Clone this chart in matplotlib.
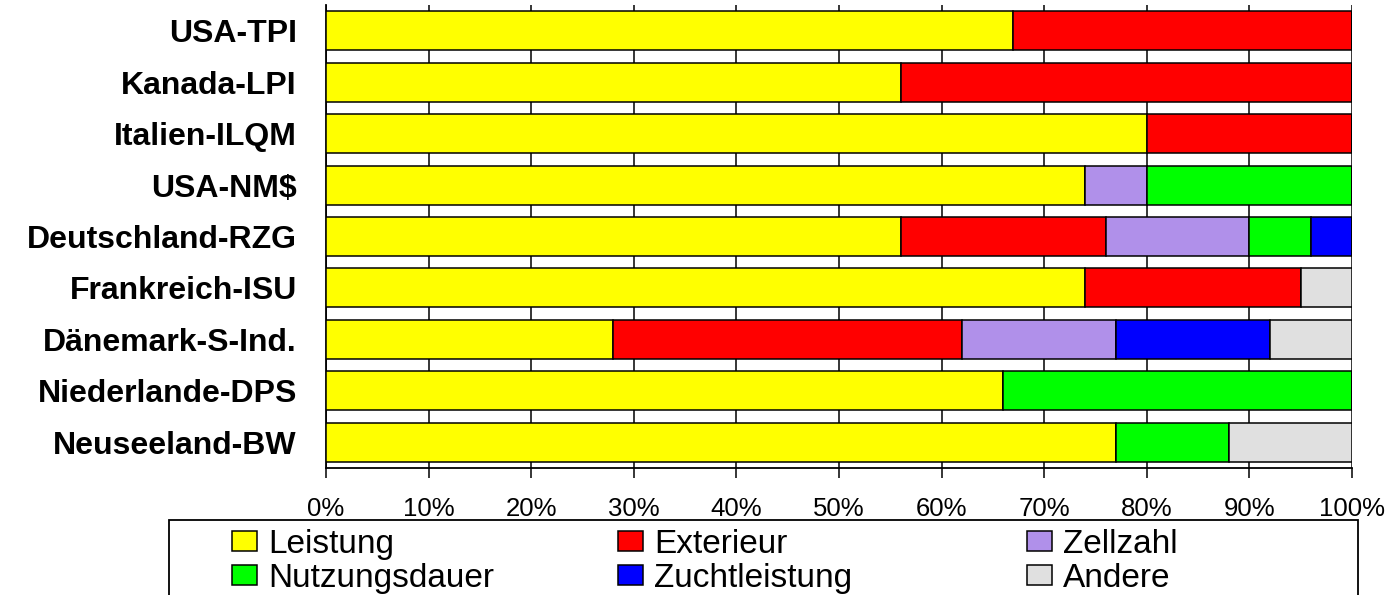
import numpy as np
import matplotlib
matplotlib.use("Agg")
from matplotlib import pyplot as plt
from matplotlib.patches import Patch, Rectangle

plt.rcParams["font.family"] = ["Liberation Sans", "DejaVu Sans"]

categories = [
    "USA-TPI",
    "Kanada-LPI",
    "Italien-ILQM",
    "USA-NM$",
    "Deutschland-RZG",
    "Frankreich-ISU",
    "Dänemark-S-Ind.",
    "Niederlande-DPS",
    "Neuseeland-BW",
]

# shares in percent, one list per trait group
leistung = [67, 56, 80, 74, 56, 74, 28, 66, 77]
exterieur = [33, 44, 20, 0, 20, 21, 34, 0, 0]
zellzahl = [0, 0, 0, 6, 14, 0, 15, 0, 0]
nutzungsdauer = [0, 0, 0, 20, 6, 0, 0, 34, 11]
zuchtleistung = [0, 0, 0, 0, 4, 0, 15, 0, 0]
andere = [0, 0, 0, 0, 0, 5, 8, 0, 12]

series = [
    ("Leistung", leistung, "#FFFF00"),
    ("Exterieur", exterieur, "#FF0000"),
    ("Zellzahl", zellzahl, "#B090EA"),
    ("Nutzungsdauer", nutzungsdauer, "#00FF00"),
    ("Zuchtleistung", zuchtleistung, "#0000FF"),
    ("Andere", andere, "#E0E0E0"),
]

W, H = 1391, 595
fig = plt.figure(figsize=(W / 100, H / 100), dpi=100)
ax = fig.add_axes([326 / W, 1 - 468 / H, (1352 - 326) / W, (468 - 5) / H])

y = np.arange(len(categories))
left = np.zeros(len(categories))
for name, vals, col in series:
    vals = np.array(vals, dtype=float)
    ax.barh(y, vals, left=left, height=0.76, color=col,
            edgecolor="black", linewidth=1.1, label=name, zorder=3)
    left += vals

ax.set_xlim(0, 100)
ax.set_ylim(len(categories) - 0.5, -0.5)
ax.set_yticks(y)
ax.set_yticklabels(categories, fontsize=23, fontweight="bold")
ax.tick_params(axis="y", length=0, pad=21)

ax.set_xticks(np.arange(0, 101, 10))
ax.set_xticklabels([f"{v}%" for v in range(0, 101, 10)], fontsize=18.5)
ax.tick_params(axis="x", length=7, width=1.1, color="black", pad=14)

ax.xaxis.grid(True, color="black", linewidth=1.1)
ax.set_axisbelow(True)
for side in ["top", "right"]:
    ax.spines[side].set_visible(False)
for side in ["left", "bottom"]:
    ax.spines[side].set_linewidth(1.3)
    ax.spines[side].set_color("black")

# legend frame running off the bottom edge
fig.patches.append(Rectangle((169 / W, -0.1), (1358 - 169) / W, 0.1 + 1 - 520 / H,
                             transform=fig.transFigure, fill=False,
                             edgecolor="black", linewidth=1.3))

# three legend columns
col_x = [232, 618, 1027]
for i, x in enumerate(col_x):
    handles = []
    for name, vals, col in (series[i], series[i + 3]):
        handles.append(Patch(facecolor=col, edgecolor="black", linewidth=1.1, label=name))
    fig.legend(handles=handles, loc="upper left",
               bbox_to_anchor=(x / W, 1 - 529 / H), frameon=False,
               fontsize=24, borderpad=0, borderaxespad=0,
               handlelength=0.75, handleheight=0.57, handletextpad=0.33,
               labelspacing=0.08)

fig.savefig("out.png", dpi=100)
